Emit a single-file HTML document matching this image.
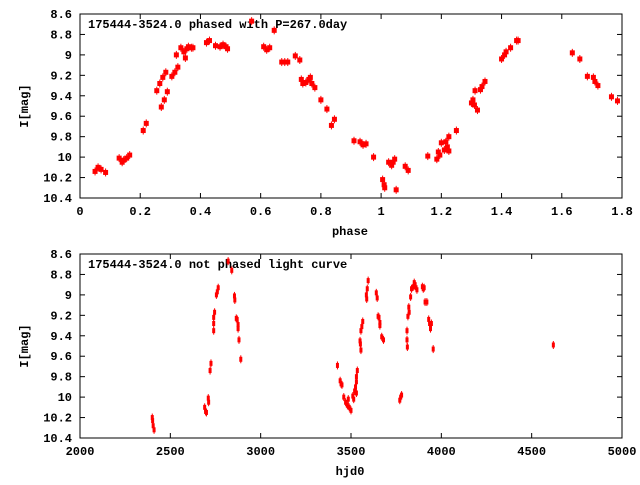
<!DOCTYPE html>
<html><head><meta charset="utf-8"><style>
body{margin:0;background:#fff}
svg text{font-family:"Liberation Mono","DejaVu Sans Mono",monospace;font-weight:bold;font-size:12px;fill:#000}
</style></head><body>
<svg id="c" width="640" height="480"></svg>
<script>
const phaseX=[0.05,0.06,0.07,0.085,0.13,0.14,0.145,0.155,0.165,0.21,0.22,0.255,0.265,0.27,0.275,0.28,0.285,0.29,0.305,0.315,0.32,0.325,0.335,0.345,0.35,0.355,0.36,0.37,0.375,0.42,0.43,0.45,0.465,0.475,0.485,0.49,0.57,0.61,0.62,0.63,0.645,0.67,0.68,0.69,0.715,0.73,0.735,0.74,0.75,0.76,0.765,0.77,0.78,0.8,0.82,0.835,0.845,0.91,0.93,0.94,0.95,0.975,1.005,1.01,1.012,1.025,1.035,1.04,1.045,1.05,1.08,1.09,1.155,1.185,1.19,1.195,1.2,1.21,1.215,1.22,1.225,1.225,1.25,1.3,1.305,1.31,1.312,1.32,1.33,1.335,1.345,1.4,1.41,1.415,1.43,1.45,1.455,1.635,1.66,1.685,1.705,1.71,1.72,1.765,1.785];
const phaseMag=[10.14,10.1,10.12,10.15,10.01,10.05,10.03,10.01,9.98,9.74,9.67,9.35,9.28,9.51,9.22,9.44,9.17,9.36,9.21,9.17,9.0,9.12,8.93,8.97,9.03,8.94,8.92,8.93,8.93,8.88,8.86,8.91,8.92,8.9,8.92,8.94,8.67,8.92,8.95,8.93,8.76,9.07,9.07,9.07,9.01,9.05,9.24,9.28,9.27,9.24,9.22,9.28,9.32,9.44,9.53,9.69,9.63,9.84,9.85,9.88,9.87,10.0,10.22,10.27,10.3,10.05,10.08,10.05,10.02,10.32,10.09,10.13,9.99,10.02,9.95,9.98,9.86,9.93,9.85,9.9,9.94,9.8,9.74,9.47,9.44,9.49,9.35,9.54,9.34,9.31,9.26,9.04,9.0,8.97,8.93,8.86,8.86,8.98,9.04,9.21,9.22,9.26,9.3,9.41,9.45];
const hjd=[2400,2402,2405,2410,2690,2695,2700,2710,2712,2720,2725,2740,2740,2740,2745,2755,2760,2765,2820,2840,2855,2857,2865,2870,2875,2875,2880,2890,3425,3440,3445,3450,3460,3470,3480,3485,3490,3500,3510,3515,3520,3525,3530,3530,3535,3530,3550,3552,3555,3555,3560,3565,3585,3587,3590,3595,3640,3645,3650,3655,3660,3660,3670,3680,3770,3775,3780,3810,3810,3812,3815,3820,3822,3830,3835,3845,3850,3855,3860,3865,3895,3900,3905,3910,3920,3930,3935,3940,3945,3955,4620];
const hjdMag=[10.2,10.23,10.28,10.32,10.1,10.14,10.15,10.01,10.05,9.74,9.67,9.35,9.28,9.22,9.17,9.0,8.97,8.93,8.67,8.76,9.01,9.05,9.23,9.24,9.29,9.33,9.44,9.63,9.69,9.84,9.87,9.88,10.0,10.05,10.08,10.02,10.1,10.13,9.99,10.02,9.94,9.9,9.85,9.8,9.74,9.96,9.45,9.48,9.54,9.35,9.31,9.26,9.0,9.04,8.94,8.86,8.98,9.03,9.21,9.22,9.27,9.3,9.41,9.44,10.03,10.0,9.98,9.35,9.44,9.51,9.21,9.12,9.17,9.02,8.94,8.92,8.88,8.9,8.93,8.95,8.92,8.94,8.93,9.07,9.07,9.24,9.28,9.33,9.28,9.53,9.49];
const yTicks=["8.6","8.8","9","9.2","9.4","9.6","9.8","10","10.2","10.4"];
const phaseTicks=["0","0.2","0.4","0.6","0.8","1","1.2","1.4","1.6","1.8"];
const hjdTicks=["2000","2500","3000","3500","4000","4500","5000"];
const NS="http://www.w3.org/2000/svg",svg=document.getElementById('c');
function el(t,a,p){const e=document.createElementNS(NS,t);for(const k in a)e.setAttribute(k,a[k]);(p||svg).appendChild(e);return e;}
function panel(o){
 const g=el('g',{});
 
 
 const L=80,R=622,T=o.top,B=o.top+184;
 const sx=v=>L+(v-o.x0)/(o.x1-o.x0)*(R-L), sy=v=>T+(v-8.6)/1.8*(B-T);
 yTicks.forEach(s=>{const v=parseFloat(s),y=sy(v);
  el('line',{x1:L,x2:L+5,y1:y,y2:y,stroke:'#000'},g);el('line',{x1:R,x2:R-5,y1:y,y2:y,stroke:'#000'},g);
  const t=el('text',{x:72,y:y+4,'text-anchor':'end'},g);t.textContent=s;
  });
 o.ticks.forEach(s=>{const v=parseFloat(s),x=sx(v);
  el('line',{x1:x,x2:x,y1:B,y2:B-5,stroke:'#000'},g);el('line',{x1:x,x2:x,y1:T,y2:T+5,stroke:'#000'},g);
  const t=el('text',{x:x,y:B+17,'text-anchor':'middle'},g);t.textContent=s;
  });
 const f=el('rect',{x:L,y:T,width:R-L,height:B-T,fill:'none',stroke:'#000'},g);
 
 const tt=el('text',{x:88,y:T+14},g);tt.textContent=o.title;
 
 const xl=el('text',{x:350,y:B+37,'text-anchor':'middle'},g);xl.textContent=o.xlabel;
 
 const yl=el('text',{x:0,y:0,'text-anchor':'middle',transform:`translate(28,${(T+B)/2}) rotate(-90)`},g);yl.textContent='I[mag]';
 
 o.xs.forEach((v,i)=>{const x=sx(v),y=sy(o.ys[i]);
  el('line',{x1:x,x2:x,y1:y-4,y2:y+4,stroke:'#f00','stroke-width':1},g);
  const r=el('rect',{x:x-o.w/2,y:y-o.h/2,width:o.w,height:o.h,fill:'#f00'},g);
  });
}
panel({name:'phased-plot',top:14,x0:0,x1:1.8,ticks:phaseTicks,xs:phaseX,ys:phaseMag,title:'175444-3524.0 phased with P=267.0day',xlabel:'phase',w:5,h:5});
panel({name:'light-curve-plot',top:254,x0:2000,x1:5000,ticks:hjdTicks,xs:hjd,ys:hjdMag,title:'175444-3524.0 not phased light curve',xlabel:'hjd0',w:3,h:5});
</script>
</body></html>
